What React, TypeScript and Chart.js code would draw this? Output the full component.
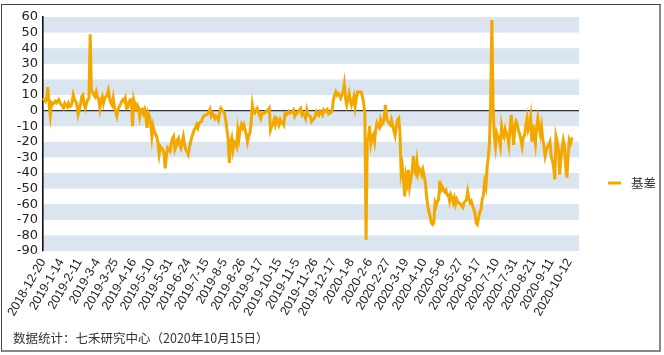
import React, { useEffect, useRef } from "react";
import { Chart, registerables } from "chart.js";

Chart.register(...registerables);

// Tick labels: one every 15 trading days
const tickLabels = [
  "2018-12-20", "2019-1-14", "2019-2-11", "2019-3-4", "2019-3-25", "2019-4-16",
  "2019-5-10", "2019-5-31", "2019-6-24", "2019-7-15", "2019-8-5", "2019-8-26",
  "2019-9-17", "2019-10-15", "2019-11-5", "2019-11-26", "2019-12-17", "2020-1-8",
  "2020-2-6", "2020-2-27", "2020-3-19", "2020-4-10", "2020-5-6", "2020-5-27",
  "2020-6-17", "2020-7-10", "2020-7-31", "2020-8-21", "2020-9-11", "2020-10-12",
];
const tickEvery = 15;
const trailingSlots = 5;

const seriesName = "基差";

// 基差 values, one per trading day (rows of 15 = one tick interval)
const basis = [
  8, 7, 6, 8, 15, 4, -3, 5, 4, 5, 6, 5, 6, 7, 5,
  4, 3, 1.5, 4.7, 3.5, 2.5, 4.7, 2.5, 3, 5, 10, 7, 6, 4, -2.3,
  1, 4, 9, 10, 4, 1.5, 4.7, 7, 8, 49, 13, 12, 10, 9, 12,
  9, 7, 1.5, 7, 9, 4.7, 8, 9, 10, 13, 8, 5, 3.6, 8, 2,
  0, -3.4, 0.5, 2.5, 4, 5.7, 7, 6, 8, 1.5, 2, 5, 7, 7, -10,
  7, 4, 1.5, 3.6, 2, -3.8, 0.5, 1, -1.7, 0.5, -4, -11, -1.7, -3.8, -8,
  -16.6, -10, -13.4, -15, -16.6, -21, -28, -23, -24, -25, -27, -37, -29, -24, -25,
  -26, -21, -18, -16.6, -25, -23, -19, -17.7, -22, -24, -20, -16.6, -22, -25, -26,
  -28, -24, -20, -17, -14.5, -12.4, -11, -9, -11, -8, -7.5, -7, -4.5, -3.4, -3,
  -2.8, -2, -1, 0.8, -3.4, -1.7, -3, -5, -3.4, -4, -6, -1.7, 1.5, 0.4, -0.5,
  -1.7, -6, -12, -18, -33.6, -21, -17.7, -25, -20, -21, -23, -12.4, -17.7, -12, -9,
  -11, -9, -12, -15.5, -20, -16, -14.5, -8, 3.6, -1, -1.7, 0.4, 1.5, -1, -2.8,
  -5, -2, -1.7, -1.7, -0.6, -0.5, 0.4, 1.5, -12.4, -10, -9, -6, -9, -5, -6,
  -9, -6, -8, -7.5, -9, -2, -2.8, -1.7, -0.6, -1.7, -1, -0.6, 0.4, -3.8, -2.5,
  -1.7, -0.6, 0.5, 1.5, -2.8, -1.7, -3, -5, 0.4, -2.8, -3, -3.8, -7, -6, -5,
  -3.8, -0.6, -1.5, -2.8, -0.6, -1.5, -2.8, 0.4, -0.6, 0, 0.8, -2.1, -1.5, -1.3, 0.4,
  6.8, 10, 12, 10, 11, 10, 8, 10, 12, 17, 8, 3.6, 7, 11, 7,
  3.6, 6, 9, 2.5, 8, 12, 12, 12, 12, 9, 5, -2, -83, -20, -16.6,
  -10, -21, -17, -15.5, -20, -12, -8, -10, -11, -6, -9, -8, -4, 3.6, -4.8,
  -7, -8, -9, -6, -10, -13, -16, -10, -6, -5, -14, -40, -36, -45, -55,
  -42, -46, -38, -48.6, -44, -40, -29, -38, -40, -32.6, -40, -37, -38, -41, -38,
  -42, -46, -55, -61, -65, -68, -72, -73, -72, -59, -61, -58, -57, -45, -50.7,
  -49, -51, -52, -51, -54, -54, -58, -54, -56, -59, -56, -60, -57, -59, -59,
  -60, -61, -62, -59, -58, -57, -52, -57, -59, -58, -61, -63, -65.6, -72, -73,
  -69, -65, -63.5, -57, -54, -46, -49, -37, -30, -21, 7, 58, 2.5, -16.6, -23,
  -14.5, -17, -19, -23, -10, -15, -17, -12, -15, -17, -22, -11, -2.8, -12, -22,
  -10, -7, -9, -13, -15, -19, -23, -17, -16, -10, -5, -12, -9, -4, -20,
  -9, -15, -21, -11, -5, -10, -15, -10, -18, -23, -29, -25, -23, -22, -20,
  -29, -32, -36, -44, -16.6, -20, -25, -41, -31.5, -24, -19, -23, -36, -43, -29,
  -19, -21, -18, -17.7,
];

const yMin = -90;
const yMax = 60;
const yStep = 10;

const LINE_COLOR = "#F2A800";
const BAND_COLOR = "#DAE5F0";

const bandsPlugin = {
  id: "bands",
  beforeDraw(chart: any) {
    const { ctx, chartArea, scales } = chart;
    const y = scales.y;
    ctx.save();
    ctx.fillStyle = BAND_COLOR;
    for (let top = yMax; top > yMin; top -= 2 * yStep) {
      const y1 = y.getPixelForValue(top);
      const y2 = y.getPixelForValue(top - yStep);
      ctx.fillRect(chartArea.left, y1, chartArea.right - chartArea.left, y2 - y1);
    }
    ctx.restore();
  },
};

const legendPlugin = {
  id: "customLegend",
  afterDraw(chart: any) {
    const { ctx } = chart;
    ctx.save();
    ctx.strokeStyle = LINE_COLOR;
    ctx.lineWidth = 3;
    ctx.beginPath();
    ctx.moveTo(608, 183);
    ctx.lineTo(621, 183);
    ctx.stroke();
    ctx.fillStyle = "#333";
    ctx.font = '12.5px "Noto Sans CJK SC"';
    ctx.textBaseline = "middle";
    ctx.textAlign = "left";
    ctx.fillText(seriesName, 631, 183);
    ctx.restore();
  },
};

export default function App() {
  const canvasRef = useRef<HTMLCanvasElement | null>(null);

  useEffect(() => {
    document.body.style.margin = "0";
    const canvas = canvasRef.current;
    if (!canvas) return;
    const total = basis.length + trailingSlots;
    const labels = Array.from({ length: total }, (_, i) =>
      i % tickEvery === 0 && tickLabels[i / tickEvery] !== undefined ? tickLabels[i / tickEvery] : ""
    );
    const chart = new Chart(canvas, {
      type: "line",
      data: {
        labels,
        datasets: [
          {
            label: seriesName,
            data: basis,
            borderColor: LINE_COLOR,
            backgroundColor: LINE_COLOR,
            borderWidth: 3,
            pointRadius: 0,
            tension: 0,
            fill: false,
          },
        ],
      },
      options: {
        responsive: false,
        animation: false,
        devicePixelRatio: 1,
        layout: { padding: { left: 0, right: 85, top: 17, bottom: 0 } },
        plugins: {
          legend: { display: false },
          tooltip: { enabled: false },
        },
        scales: {
          x: {
            type: "category",
            offset: false,
            grid: { display: false, drawTicks: false },
            border: { display: false },
            afterFit: (scale: any) => {
              scale.height = 104;
            },
            ticks: {
              autoSkip: false,
              maxRotation: 60,
              minRotation: 60,
              padding: 5,
              color: "#222",
              font: { family: "Liberation Sans", size: 12.5 },
              callback: (_v: any, i: number) =>
                i % tickEvery === 0 && tickLabels[i / tickEvery] !== undefined
                  ? tickLabels[i / tickEvery]
                  : null,
            },
          },
          y: {
            min: yMin,
            max: yMax,
            afterFit: (scale: any) => {
              scale.width = 43;
            },
            grid: {
              drawTicks: false,
              color: (c: any) => (c.tick && c.tick.value === 0 ? "#333" : "rgba(0,0,0,0)"),
              lineWidth: 1.2,
            },
            border: { display: true, color: "#111", width: 1.6 },
            ticks: {
              stepSize: yStep,
              autoSkip: false,
              padding: 5,
              color: "#222",
              font: { family: "DejaVu Sans", size: 13 },
            },
          },
        },
      },
      plugins: [bandsPlugin, legendPlugin],
    });
    return () => chart.destroy();
  }, []);

  return (
    <div style={{ position: "relative", width: 664, height: 355, background: "#fff" }}>
      <canvas ref={canvasRef} width={664} height={355} style={{ position: "absolute", left: 0, top: 0 }} />
      <div
        style={{
          position: "absolute",
          left: 1,
          top: 4,
          width: 660,
          height: 348,
          boxSizing: "border-box",
          borderTop: "1px solid #444",
          borderLeft: "1px solid #444",
          borderRight: "2px solid #888",
          borderBottom: "2px solid #888",
          pointerEvents: "none",
        }}
      />
      <div
        style={{
          position: "absolute",
          left: 13,
          top: 331,
          fontFamily: '"Noto Sans CJK SC"',
          fontSize: 12.5,
          lineHeight: "14px",
          color: "#333",
          whiteSpace: "nowrap",
        }}
      >
        数据统计：七禾研究中心（2020年10月15日）
      </div>
    </div>
  );
}
